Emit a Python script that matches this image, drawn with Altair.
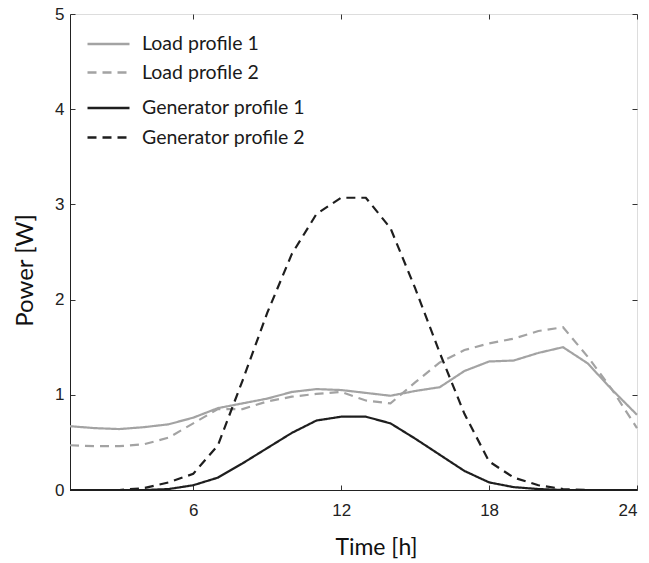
import altair as alt
import pandas as pd

hours = list(range(1, 25))
load1 = [0.67, 0.65, 0.64, 0.66, 0.69, 0.76, 0.86, 0.91, 0.96, 1.03, 1.06, 1.05,
         1.02, 0.99, 1.04, 1.08, 1.25, 1.35, 1.36, 1.44, 1.50, 1.33, 1.05, 0.79]
load2 = [0.47, 0.46, 0.46, 0.48, 0.55, 0.70, 0.85, 0.85, 0.93, 0.98, 1.01, 1.03,
         0.94, 0.91, 1.13, 1.34, 1.47, 1.54, 1.59, 1.67, 1.71, 1.40, 1.05, 0.65]
gen1 = [0, 0, 0, 0, 0.01, 0.05, 0.13, 0.28, 0.44, 0.60, 0.73, 0.77,
        0.77, 0.70, 0.54, 0.37, 0.20, 0.08, 0.03, 0.01, 0, 0, 0, 0]
gen2 = [0, 0, 0, 0.02, 0.08, 0.17, 0.47, 1.15, 1.86, 2.48, 2.90, 3.07,
        3.07, 2.75, 2.12, 1.44, 0.80, 0.30, 0.13, 0.05, 0.01, 0, 0, 0]

load_names = ["Load profile 1", "Load profile 2"]
gen_names = ["Generator profile 1", "Generator profile 2"]
x_ticks = [6, 12, 18, 24]
y_ticks = [0, 1, 2, 3, 4, 5]

load_df = pd.DataFrame({
    "hour": hours * 2,
    "power": load1 + load2,
    "series": [load_names[0]] * 24 + [load_names[1]] * 24,
})
gen_df = pd.DataFrame({
    "hour": hours * 2,
    "power": gen1 + gen2,
    "series": [gen_names[0]] * 24 + [gen_names[1]] * 24,
})

GREY = "#a3a3a3"
BLACK = "#1e1e1e"
TICK_FONT = "Liberation Sans"
TEXT_FONT = "Lato"
DASH = [9, 6]

xscale = alt.Scale(domain=[1, 24], nice=False, zero=False)
yscale = alt.Scale(domain=[0, 5], nice=False)

legend_common = dict(
    orient="none", title=None, symbolType="stroke", symbolSize=1764,
    symbolStrokeWidth=2.4, clipHeight=16, labelFont=TEXT_FONT,
    labelFontSize=19.5, labelColor="#1a1a1a", labelOffset=11, padding=0,
    labelLimit=400, legendX=16,
)

load_layer = alt.Chart(load_df).mark_line(strokeWidth=2.2).encode(
    x=alt.X("hour:Q", scale=xscale,
            axis=alt.Axis(orient="bottom", values=x_ticks, title="Time [h]",
                          grid=False, tickSize=alt.ExprRef("-5"), labelPadding=17,
                          tickColor="#333333", domainColor="#222222",
                          labelFont=TICK_FONT, labelFontSize=17, labelColor="#222222",
                          titleFont=TEXT_FONT, titleFontSize=23, titleFontWeight="normal",
                          titleColor="#111111", titleX=306, titleY=64,
                          titleBaseline="alphabetic", titleAnchor="middle")),
    y=alt.Y("power:Q", scale=yscale,
            axis=alt.Axis(orient="left", values=y_ticks, title="Power [W]",
                          grid=False, tickSize=alt.ExprRef("-5"), labelPadding=11,
                          tickColor="#333333", domainColor="#222222",
                          labelFont=TICK_FONT, labelFontSize=17, labelColor="#222222",
                          titleFont=TEXT_FONT, titleFontSize=24, titleFontWeight="normal",
                          titleColor="#111111", titleX=-38, titleY=256,
                          titleBaseline="alphabetic", titleAngle=-90, titleAnchor="middle")),
    color=alt.Color("series:N", scale=alt.Scale(domain=load_names, range=[GREY, GREY]),
                    legend=alt.Legend(legendY=22, rowPadding=8.5, **legend_common)),
    strokeDash=alt.StrokeDash("series:N",
                              scale=alt.Scale(domain=load_names, range=[[1, 0], DASH]),
                              legend=alt.Legend(legendY=22, rowPadding=8.5, **legend_common)),
)

gen_layer = alt.Chart(gen_df).mark_line(strokeWidth=2.2).encode(
    x=alt.X("hour:Q", scale=xscale,
            axis=alt.Axis(orient="top", values=x_ticks, title=None, labels=False,
                          domain=False, grid=False, tickSize=alt.ExprRef("-5"),
                          tickColor="#333333")),
    y=alt.Y("power:Q", scale=yscale,
            axis=alt.Axis(orient="right", values=y_ticks, title=None, labels=False,
                          domain=False, grid=False, tickSize=alt.ExprRef("-5"),
                          tickColor="#333333")),
    color=alt.Color("series:N", scale=alt.Scale(domain=gen_names, range=[BLACK, BLACK]),
                    legend=alt.Legend(legendY=86, rowPadding=9.5, **legend_common)),
    strokeDash=alt.StrokeDash("series:N",
                              scale=alt.Scale(domain=gen_names, range=[[1, 0], DASH]),
                              legend=alt.Legend(legendY=86, rowPadding=9.5, **legend_common)),
)

chart = alt.layer(load_layer, gen_layer).resolve_scale(
    color="independent", strokeDash="independent"
).resolve_axis(
    x="independent", y="independent"
).properties(
    width=567, height=476,
    autosize=alt.AutoSizeParams(type="none"),
    padding={"left": 70, "top": 14, "right": 12, "bottom": 73},
).configure_view(
    stroke="#222222", strokeWidth=1.2
).configure(background="white")

chart.save("out.html", embed_options={"renderer": "svg", "actions": False})
